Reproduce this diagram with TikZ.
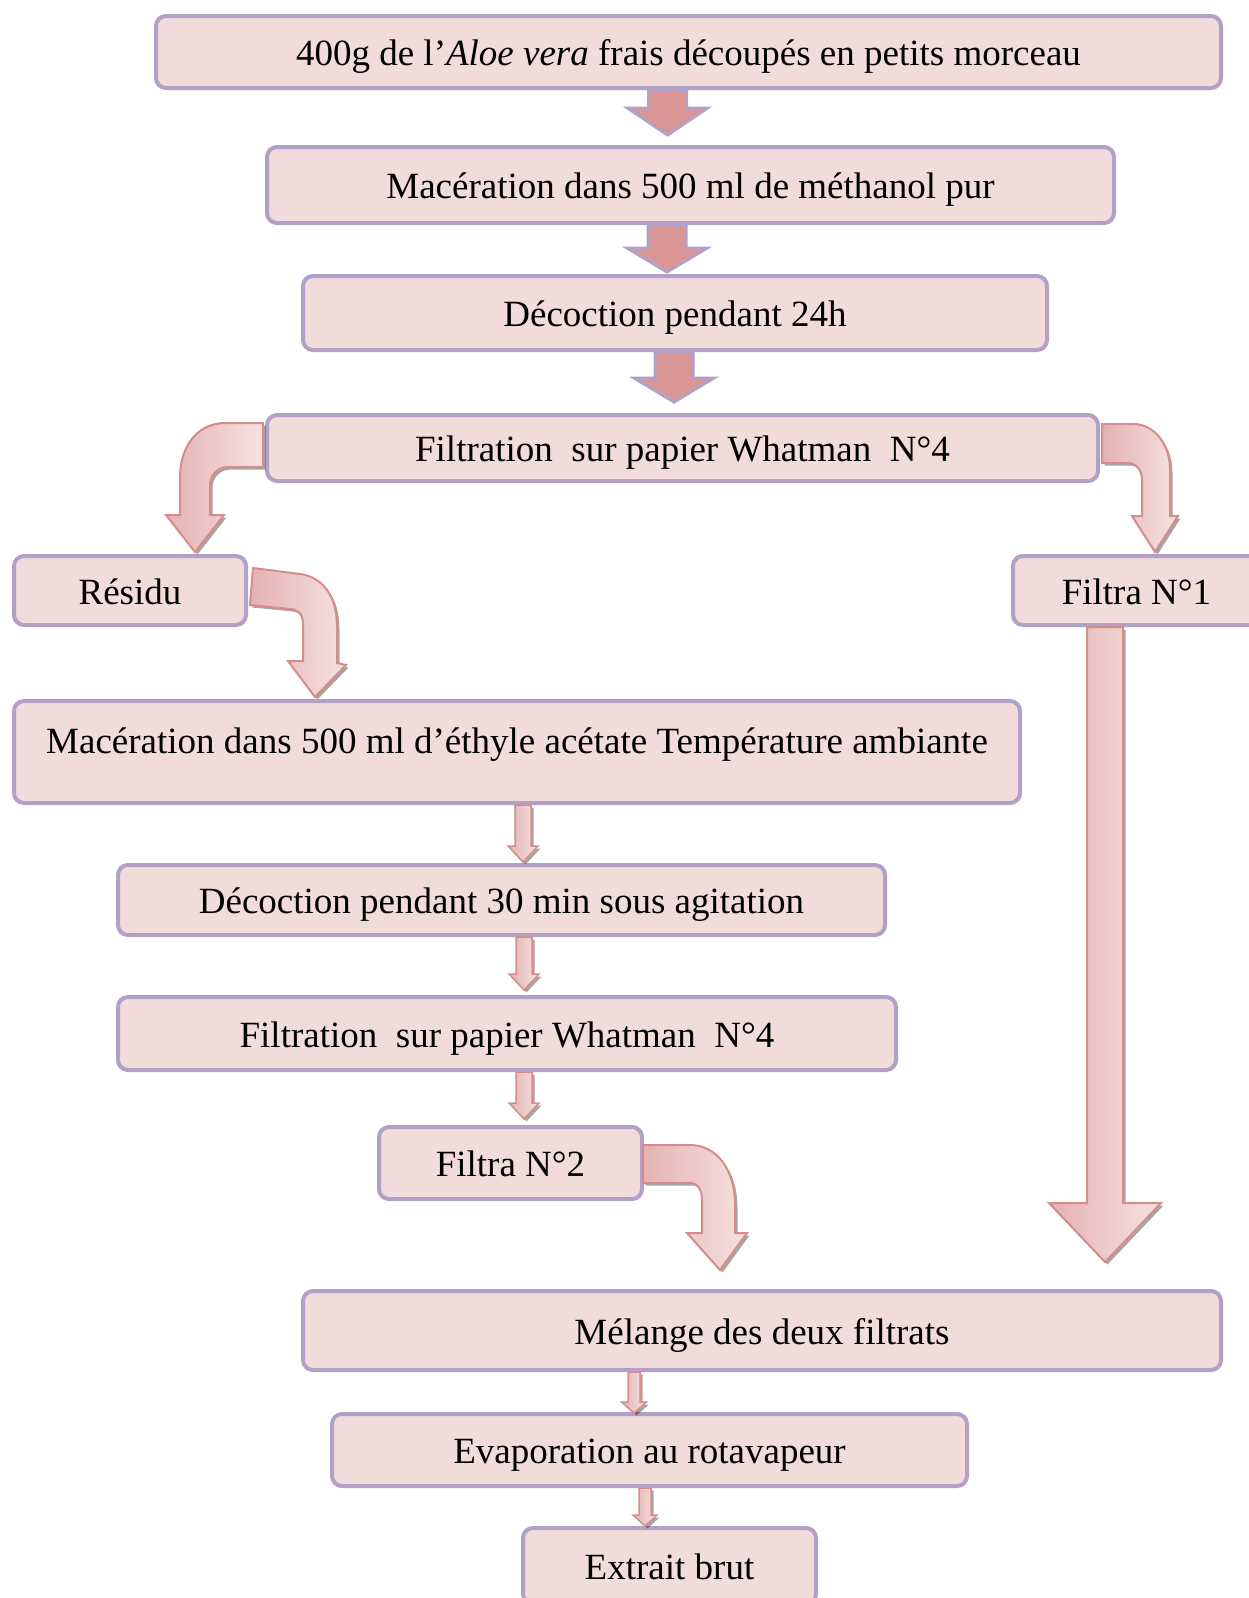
\documentclass[tikz,border=0pt]{standalone}
\usepackage{fontspec}
\setmainfont{Liberation Serif}
\usetikzlibrary{calc,shadows}
\definecolor{boxfill}{RGB}{242,220,219}
\definecolor{boxline}{RGB}{178,161,199}
\definecolor{fatfill}{RGB}{217,150,148}
\definecolor{arrowline}{RGB}{214,140,138}
\definecolor{arrowdark}{RGB}{228,178,177}
\definecolor{arrowlight}{RGB}{245,226,225}
\newcommand\vArrow[6]{\path[#1] let \p1=(#2), \p2=(#3) in (\x1-#4,\y1) -- (\x1-#4,\y2+#6) -- (\x1-#5,\y2+#6) -- (\x1,\y2) -- (\x1+#5,\y2+#6) -- (\x1+#4,\y2+#6) -- (\x1+#4,\y1) -- cycle;}
\begin{document}
\begin{tikzpicture}[x=1pt,y=-1pt,
  box/.style={draw=boxline, fill=boxfill, line width=4pt, rounded corners=10pt, inner sep=0pt,
    font=\fontsize{37}{44}\selectfont, text height=36pt, text depth=9pt},
  fatarrow/.style={fill=fatfill, draw=boxline, line width=3pt, line join=miter},
  pinkarrow/.style={draw=arrowline, line width=2pt, left color=arrowdark, right color=arrowlight,
    drop shadow={shadow xshift=2.5pt, shadow yshift=-2.5pt, fill=black, opacity=0.35}},
  thinarrow/.style={pinkarrow, line width=1.5pt}]
\useasboundingbox (0,0) rectangle (1249,1598);
\clip (0,0) rectangle (1249,1598);
% boxes
\node[box, minimum width=1065pt, minimum height=72pt] (b1) at (688.5,52) {400g de l’\textit{Aloe vera} frais découpés en petits morceau};
\node[box, minimum width=847pt, minimum height=76pt] (b2) at (690.5,185) {Macération dans 500 ml de méthanol pur};
\node[box, minimum width=744pt, minimum height=74pt] (b3) at (675,313) {Décoction pendant 24h};
\node[box, minimum width=831pt, minimum height=66pt] (b4) at (682.5,448) {Filtration\ \ sur papier Whatman\ \ N°4};
\node[box, minimum width=232pt, minimum height=69pt] (res) at (130,590.5) {Résidu};
\node[box, minimum width=247pt, minimum height=69pt] (fn1) at (1136.5,590.5) {Filtra N°1};
\node[box, minimum width=1006pt, minimum height=102pt, text depth=33pt] (mac2) at (517,752) {Macération dans 500 ml d’éthyle acétate Température ambiante};
\node[box, minimum width=767pt, minimum height=70pt] (dec2) at (501.5,900) {Décoction pendant 30 min sous agitation};
\node[box, minimum width=778pt, minimum height=73pt] (fil2) at (507,1033.5) {Filtration\ \ sur papier Whatman\ \ N°4};
\node[box, minimum width=263pt, minimum height=72pt] (fn2) at (510.5,1163) {Filtra N°2};
\node[box, minimum width=918pt, minimum height=79pt] (mel) at (762,1330.5) {Mélange des deux filtrats};
\node[box, minimum width=635pt, minimum height=72pt] (evap) at (649.5,1450) {Evaporation au rotavapeur};
\node[box, minimum width=293pt, minimum height=76pt] (ext) at (669.5,1566) {Extrait brut};
% fat arrows
\vArrow{fatarrow}{[xshift=-21pt]b1.south}{$(b2.north)+(0,-10)$}{19pt}{40pt}{27pt}
\vArrow{fatarrow}{[xshift=-23.5pt]b2.south}{$(b3.north)+(0,-2)$}{19pt}{40pt}{24pt}
\vArrow{fatarrow}{[xshift=-1pt]b3.south}{$(b4.north)+(0,-11)$}{19pt}{40pt}{24pt}
% big arrow
\vArrow{pinkarrow}{[xshift=-31.5pt]fn1.south}{$(mel.north)+(0,-27)$}{18pt}{56pt}{59pt}
% thin arrows
\vArrow{thinarrow}{[xshift=6pt]mac2.south}{$(dec2.north)+(0,-1)$}{8pt}{15pt}{16pt}
\vArrow{thinarrow}{[xshift=22.5pt]dec2.south}{$(fil2.north)+(0,-5)$}{8pt}{15pt}{16pt}
\vArrow{thinarrow}{[xshift=17pt]fil2.south}{$(fn2.north)+(0,-6)$}{8pt}{15pt}{16pt}
\vArrow{thinarrow}{[xshift=-128pt]mel.south}{$(evap.north)+(0,1)$}{6pt}{12.5pt}{11pt}
\vArrow{thinarrow}{[xshift=-4.5pt]evap.south}{ext.north}{6pt}{12pt}{11pt}
% curved arrows
\path[pinkarrow] ([shift={(-2,10)}]b4.north west) -- ++(-38,0)
  .. controls +(-25,0) and +(0,-35) .. ++(-45,55) -- ++(0,37) -- ++(-14,0) -- ++(29,37)
  -- ++(29,-37) -- ++(-14,0) -- ++(0,-30) .. controls +(0,-10) and +(-10,0) .. ++(18,-18)
  -- ++(35,0) -- cycle;
\path[pinkarrow] ([shift={(2,11)}]b4.north east) -- ++(31,0)
  .. controls +(22,0) and +(0,-25) .. ++(37,46) -- ++(0,46) -- ++(8,0) -- ++(-23,36)
  -- ++(-23,-36) -- ++(10,0) -- ++(0,-36) .. controls +(0,-10) and +(8,0) .. ++(-14,-17)
  -- ++(-26,0) -- cycle;
\path[pinkarrow] ([shift={(5,14)}]res.north east) -- ++(47,6)
  .. controls +(22,3) and +(0,-32) .. ++(37,53) -- ++(0,36) -- ++(9,2) -- ++(-31,32)
  -- ++(-27,-36) -- ++(15,0) -- ++(0,-36) .. controls +(0,-12) and +(8,1) .. ++(-13,-16)
  -- ++(-40,-4) -- cycle;
\path[pinkarrow] ([shift={(-1,20)}]fn2.north east) -- ++(47,0)
  .. controls +(27,0) and +(0,-35) .. ++(45,60) -- ++(0,28) -- ++(12,0) -- ++(-27,37)
  -- ++(-33,-37) -- ++(15,0) -- ++(0,-33) .. controls +(0,-10) and +(8,0) .. ++(-12,-17)
  -- ++(-47,0) -- cycle;
\end{tikzpicture}
\end{document}
